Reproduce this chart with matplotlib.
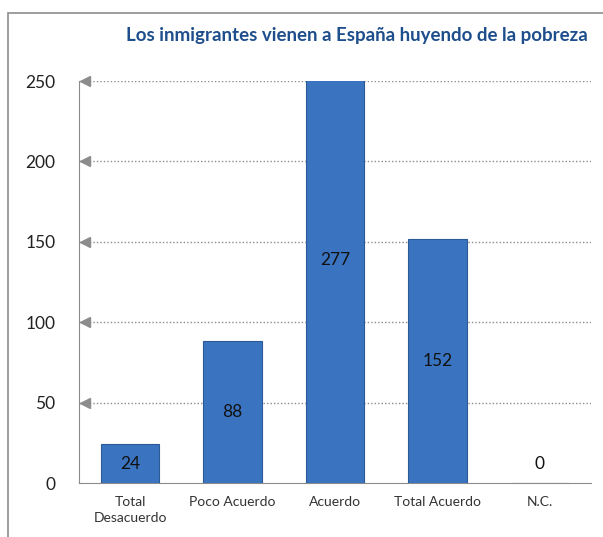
import matplotlib
matplotlib.use('Agg')
import matplotlib.pyplot as plt
import numpy as np
from matplotlib.patches import Rectangle

# datos
categorias = ['Total\nDesacuerdo', 'Poco Acuerdo', 'Acuerdo', 'Total Acuerdo', 'N.C.']
valores = [24, 88, 277, 152, 0]
ticks_y = [0, 50, 100, 150, 200, 250]
titulo = 'Los inmigrantes vienen a España huyendo de la pobreza'

plt.rcParams['font.family'] = ['Lato', 'DejaVu Sans']

fig = plt.figure(figsize=(6.03, 5.37), dpi=100)
ax = fig.add_axes([79/603, 1-483/537, (591-79)/603, (483-81)/537])

x = np.arange(len(categorias))
ax.bar(x, valores, width=0.57, color='#3A74C0', edgecolor='#2B5896', linewidth=0.8, zorder=3)

# etiquetas dentro de las barras
for xi, v in zip(x, valores):
    if v > 0:
        ax.text(xi, v/2, str(v), ha='center', va='center', fontsize=12.5, color='#111111', zorder=4)
    else:
        ax.text(xi, 12, str(v), ha='center', va='center', fontsize=12.5, color='#111111', zorder=4)

ax.set_xlim(-0.5, 4.5)
ax.set_ylim(0, 250)
ax.set_yticks(ticks_y)
ax.set_yticklabels([str(t) for t in ticks_y], fontsize=12.5, color='#222222')
ax.set_xticks(x)
ax.set_xticklabels(categorias, fontsize=10, color='#333333', linespacing=1.4)
ax.tick_params(axis='y', length=0, pad=17)
ax.tick_params(axis='x', length=0, pad=9)

# rejilla punteada con flechas
for t in ticks_y[1:]:
    ax.axhline(t, color='#8c8c8c', linestyle=(0, (1, 1.5)), linewidth=1, zorder=1)
    ax.plot([-0.44], [t], marker='<', color='#8c8c8c', markersize=7, clip_on=False, zorder=2)

for s in ['top', 'right']:
    ax.spines[s].set_visible(False)
ax.spines['left'].set_color('#8c8c8c')
ax.spines['bottom'].set_color('#8c8c8c')

fig.text(588/603, 1-36/537, titulo, ha='right', va='center', fontsize=13.5,
         fontweight='bold', color='#1F4E8C')

# marco exterior
fig.patches.append(Rectangle((8/603, -0.1), 1.2, 1-13/537+0.1, transform=fig.transFigure,
                             fill=False, edgecolor='#8c8c8c', linewidth=1.2))

fig.savefig('out.png', dpi=100)
